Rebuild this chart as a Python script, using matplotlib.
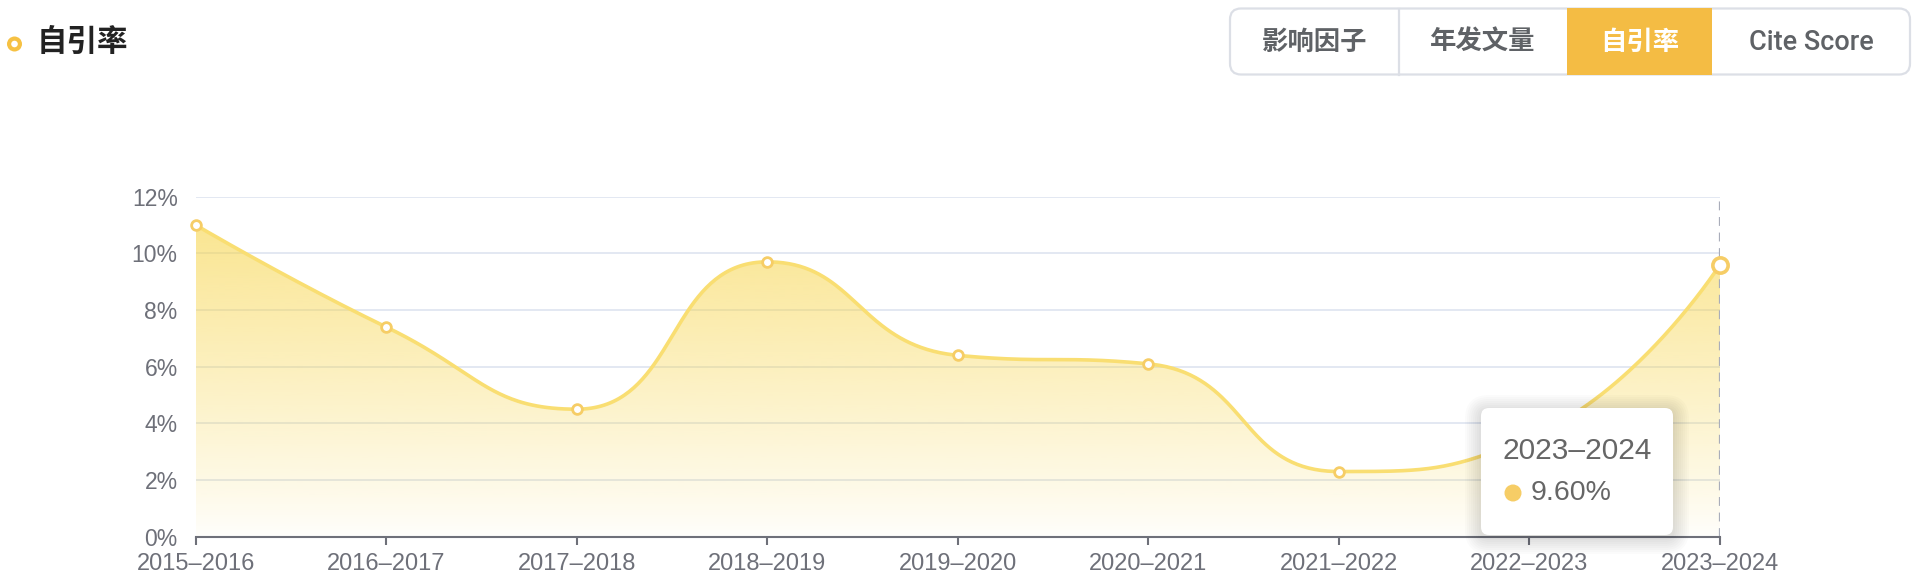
import numpy as np
import matplotlib
matplotlib.use("Agg")
import matplotlib.pyplot as plt
from matplotlib.patches import FancyBboxPatch, Rectangle, Circle, Polygon
from matplotlib.ticker import FuncFormatter

# ---------------- data ----------------
categories = ["2015–2016", "2016–2017", "2017–2018", "2018–2019", "2019–2020",
              "2020–2021", "2021–2022", "2022–2023", "2023–2024"]
values = [11.0, 7.4, 4.5, 9.7, 6.4, 6.1, 2.3, 3.5, 9.6]
y_ticks = [0, 2, 4, 6, 8, 10, 12]
title = "自引率"
tabs = ["影响因子", "年发文量", "自引率", "Cite Score"]
active_tab = "自引率"

plt.rcParams['font.family'] = ['Liberation Sans', 'Noto Sans CJK SC', 'DejaVu Sans']
CJK = ['Noto Sans CJK SC', 'Liberation Sans', 'DejaVu Sans']
LAT = ['Roboto', 'Liberation Sans', 'DejaVu Sans']

W, H = 1920, 578
fig = plt.figure(figsize=(W / 100, H / 100), dpi=100)
fig.patch.set_facecolor('white')

L, R, B, T = 195.7, 1720.0, 536.7, 196.7
ax = fig.add_axes([L / W, 1 - B / H, (R - L) / W, (B - T) / H])
n = len(categories)
x = np.arange(n)
ax.set_xlim(0, n - 1)
ax.set_ylim(0, 12)
ax.set_facecolor('none')

# ---------- ECharts-like smoothing computed in display space ----------
def echarts_smooth(P, smooth=0.5, nseg=80):
    out = [P[0]]
    cp0 = P[0].copy()
    m = len(P)
    for i in range(1, m):
        prev, cur = P[i - 1], P[i]
        if i == m - 1:
            cp1 = cur.copy()
            nextcp0 = None
        else:
            nxt = P[i + 1]
            v = nxt - prev
            l0 = np.hypot(*(cur - prev))
            l1 = np.hypot(*(nxt - cur))
            r = l1 / (l0 + l1)
            ncp0 = cur + v * smooth * r
            ncp0 = np.minimum(ncp0, np.maximum(nxt, cur))
            ncp0 = np.maximum(ncp0, np.minimum(nxt, cur))
            v = ncp0 - cur
            cp1 = cur - v * l0 / l1
            cp1 = np.minimum(cp1, np.maximum(prev, cur))
            cp1 = np.maximum(cp1, np.minimum(prev, cur))
            v = cur - cp1
            nextcp0 = cur + v * l1 / l0
        t = np.linspace(0, 1, nseg)[1:, None]
        Bz = ((1 - t) ** 3) * prev + 3 * ((1 - t) ** 2) * t * cp0 + 3 * (1 - t) * t ** 2 * cp1 + t ** 3 * cur
        out.extend(Bz)
        cp0 = nextcp0
    return np.array(out)

pix = ax.transData.transform(np.column_stack([x, values]))
curve = ax.transData.inverted().transform(echarts_smooth(pix))
cx, cy = curve[:, 0], curve[:, 1]

# grid
for yt in y_ticks[1:]:
    ax.axhline(yt, color='#E0E6F1', lw=1.3, zorder=1)

# gradient area
ytop = cy.max()
grad = np.linspace(0, 1, 256)[:, None]
rgba = np.zeros((256, 1, 4))
rgba[..., 0] = 247 / 255
rgba[..., 1] = 212 / 255
rgba[..., 2] = 70 / 255
rgba[..., 3] = 0.02 + 0.57 * grad ** 0.9
im = ax.imshow(rgba, extent=(0, n - 1, 0, ytop), origin='lower', aspect='auto',
               zorder=2, interpolation='bilinear')
poly = Polygon(np.vstack([curve, [[cx[-1], 0], [cx[0], 0]]]), closed=True,
               facecolor='none', edgecolor='none', transform=ax.transData)
ax.add_patch(poly)
im.set_clip_path(poly)
ax.set_xlim(0, n - 1)
ax.set_ylim(0, 12)

# axis pointer
ax.axvline(n - 1, color='#A9ADBA', lw=1.6, ls=(0, (4, 3)), zorder=3)

# line
ax.plot(cx, cy, color='#F9DE72', lw=2.6, zorder=4, solid_capstyle='round')
ax.plot(x[:-1], values[:-1], 'o', ms=7, mfc='white', mec='#F6CD66', mew=2.0,
        zorder=5, clip_on=False)
ax.plot(x[-1:], values[-1:], 'o', ms=11, mfc='white', mec='#F6CD66', mew=2.6,
        zorder=5, clip_on=False)

# axes style
for s in ['top', 'right', 'left']:
    ax.spines[s].set_visible(False)
ax.spines['bottom'].set_color('#6E7079')
ax.spines['bottom'].set_linewidth(1.5)
ax.spines['bottom'].set_zorder(6)
ax.set_xticks(x)
ax.set_xticklabels(categories)
ax.set_yticks(y_ticks)
ax.yaxis.set_major_formatter(FuncFormatter(lambda v, p: f"{int(v)}%"))
ax.tick_params(axis='x', length=6, width=1.5, color='#6E7079', pad=6,
               labelsize=17, labelcolor='#6E7079')
ax.tick_params(axis='y', length=0, pad=13, labelsize=16.5, labelcolor='#6E7079')

# ---------------- overlay (title, tabs, tooltip) ----------------
ov = fig.add_axes([0, 0, 1, 1])
ov.set_xlim(0, W)
ov.set_ylim(H, 0)
ov.axis('off')
ov.patch.set_alpha(0)
ov.set_zorder(10)

# title
ov.add_patch(Circle((14.5, 44), 7.5, facecolor='#F6C143', edgecolor='none'))
ov.add_patch(Circle((14.5, 44), 3.3, facecolor='white', edgecolor='none'))
ov.text(37, 42, title, family=CJK, fontsize=22, fontweight='bold',
        color='#222222', va='center', ha='left')

# tabs
bx0, bx1, by0, by1 = 1230, 1910, 8.5, 74.5
edges = [1230, 1399, 1567, 1712, 1910]
ov.add_patch(FancyBboxPatch((bx0, by0), bx1 - bx0, by1 - by0,
                            boxstyle="round,pad=0,rounding_size=11",
                            facecolor='white', edgecolor='#DCDFE6', lw=1.6))
for i, tab in enumerate(tabs):
    xa, xb = edges[i], edges[i + 1]
    if tab == active_tab:
        ov.add_patch(Rectangle((xa, by0 - 0.8), xb - xa, by1 - by0 + 1.6,
                               facecolor='#F4BC44', edgecolor='none', zorder=3))
        col = 'white'
    else:
        col = '#5F6266'
    if i == 1:
        ov.plot([xa, xa], [by0, by1], color='#DCDFE6', lw=1.6)
    if tab.isascii():
        ov.text((xa + xb) / 2, 43, tab, family=LAT, fontsize=19.5, fontweight='medium',
                color=col, va='center', ha='center', zorder=4)
    else:
        ov.text((xa + xb) / 2, 42.5, tab, family=CJK, fontsize=19, fontweight='bold',
                color=col, va='center', ha='center', zorder=4)

# tooltip
tx0, tx1, ty0, ty1 = 1481, 1673, 408, 535
for k in range(8):
    g = 2 + k * 2
    ov.add_patch(FancyBboxPatch((tx0 - g, ty0 - g + 3), tx1 - tx0 + 2 * g, ty1 - ty0 + 2 * g,
                                boxstyle="round,pad=0,rounding_size=%d" % (8 + g),
                                facecolor='black', edgecolor='none', alpha=0.014))
ov.add_patch(FancyBboxPatch((tx0, ty0), tx1 - tx0, ty1 - ty0,
                            boxstyle="round,pad=0,rounding_size=8",
                            facecolor='white', edgecolor='none'))
ov.text(1502, 451, categories[-1], fontsize=21.5, color='#666666', va='center', ha='left')
ov.add_patch(Circle((1513, 493), 8.5, facecolor='#F6CD66', edgecolor='none'))
ov.text(1531, 493, f"{values[-1]:.2f}%", fontsize=20.5, color='#666666', va='center', ha='left')

fig.savefig("out.png", dpi=100, facecolor='white')
